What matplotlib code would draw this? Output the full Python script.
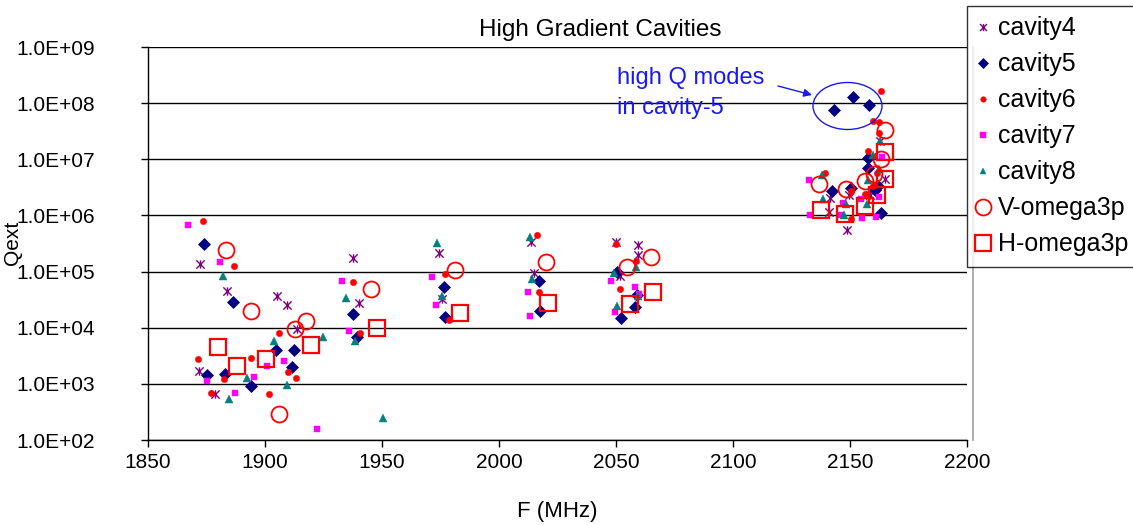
import numpy as np
import matplotlib
matplotlib.use("Agg")
import matplotlib.pyplot as plt
from matplotlib.path import Path
from matplotlib.patches import Ellipse
from matplotlib.lines import Line2D
from matplotlib.ticker import FuncFormatter, FixedLocator, NullLocator

plt.rcParams['font.family'] = ['Liberation Sans', 'DejaVu Sans']

# ---------------- data ----------------
series_names = ["cavity4", "cavity5", "cavity6", "cavity7", "cavity8", "V-omega3p", "H-omega3p"]

cav4_f = [1872.2, 1883.6, 1871.7, 1878.6, 1905.1, 1909.2, 1913.6,
          1937.7, 1940.3, 1974.3, 1975.7, 2013.6, 2014.8,
          2049.8, 2059.2, 2059.5, 2051.6,
          2141.3, 2141.0, 2148.7, 2158.6, 2164.8, 2162.7, 2149.6]
cav4_q = [1.37e5, 4.6e4, 1.7e3, 670, 3.6e4, 2.5e4, 9.3e3,
          1.76e5, 2.76e4, 2.1e5, 3.25e4, 3.3e5, 9.6e4,
          3.3e5, 3.0e5, 2.0e5, 8.5e4,
          2.07e6, 1.15e6, 5.4e5, 2.3e6, 4.4e6, 2.1e7, 2.3e6]

cav5_f = [1873.8, 1886.2, 1875.4, 1882.9, 1893.9, 1904.8, 1912.6, 1911.4,
          1937.5, 1939.3, 1976.7, 1976.9, 2016.9, 2017.4,
          2050.6, 2059.0, 2058.3, 2052.0,
          2143.1, 2151.3, 2158.2, 2142.5, 2150.6, 2157.6, 2157.7, 2160.8, 2163.1, 2162.0]
cav5_q = [3.1e5, 2.9e4, 1.43e3, 1.49e3, 920, 4.0e3, 4.0e3, 2.0e3,
          1.78e4, 6.7e3, 5.4e4, 1.57e4, 6.9e4, 2.0e4,
          9.7e4, 3.8e4, 2.37e4, 1.49e4,
          7.5e7, 1.3e8, 9.2e7, 2.7e6, 3.1e6, 7.1e6, 1.07e7, 2.8e6, 1.1e6, 3.4e6]

cav6_f = [1873.4, 1886.7, 1871.4, 1882.5, 1876.8, 1906.1, 1909.8, 1913.4, 1901.5, 1893.9,
          1937.4, 1940.6, 1976.9, 1978.6, 2016.1, 2017.1,
          2050.1, 2058.4, 2051.9,
          2139.3, 2150.6, 2150.6, 2159.8, 2163.1, 2162.2, 2162.2, 2157.6, 2161.5, 2159.8, 2156.3]
cav6_q = [7.9e5, 1.28e5, 2.8e3, 1.2e3, 680, 8.2e3, 1.6e3, 1.26e3, 670, 2.9e3,
          6.5e4, 8.1e3, 9.1e4, 1.39e4, 4.4e5, 4.4e4,
          3.1e5, 1.57e5, 4.9e4,
          5.6e6, 2.7e6, 8.7e5, 4.8e7, 1.66e8, 4.6e7, 2.9e7, 1.4e7, 5.6e6, 3.4e6, 2.4e6]

cav7_f = [1867.2, 1880.8, 1875.4, 1895.4, 1887.2, 1908.0, 1901.0, 1922.2,
          1932.7, 1935.8, 1971.5, 1973.0, 2012.3, 2013.2,
          2047.8, 2058.3, 2059.9, 2049.7,
          2132.5, 2132.8, 2147.0, 2154.8, 2155.2, 2160.9, 2162.2, 2163.7, 2146.0]
cav7_q = [6.8e5, 1.5e5, 1.13e3, 1.3e3, 680, 2.6e3, 2.1e3, 155,
          6.9e4, 8.8e3, 7.9e4, 2.54e4, 4.4e4, 1.64e4,
          6.7e4, 5.4e4, 4.0e4, 1.93e4,
          4.3e6, 1.0e6, 1.65e6, 1.95e6, 9.1e5, 9.5e5, 2.1e6, 1.1e7, 1.0e6]

cav8_f = [1881.9, 1892.2, 1884.5, 1903.7, 1924.9, 1909.2,
          1934.7, 1938.3, 1950.5, 1973.7, 1975.7, 2013.4, 2014.2,
          2058.4, 2049.2, 2059.2, 2050.4,
          2138.2, 2138.5, 2148.4, 2147.3, 2157.6, 2157.2, 2159.8, 2162.3, 2162.9]
cav8_q = [8.5e4, 1.25e3, 530, 5.7e3, 6.7e3, 950,
          3.4e4, 5.9e3, 250, 3.2e5, 3.6e4, 4.2e5, 7.4e4,
          1.19e5, 9.3e4, 3.7e4, 2.4e4,
          5.2e6, 2.0e6, 1.57e6, 1.0e6, 4.2e6, 1.57e6, 1.2e7, 6.7e6, 2.1e7]

v_f = [1883.2, 1894.0, 1917.4, 1912.8, 1906.1, 1945.4, 1981.4, 2019.9, 2064.9, 2054.9,
       2136.8, 2148.2, 2156.3, 2160.1, 2163.4, 2165.1]
v_q = [2.4e5, 2.0e4, 1.3e4, 9.5e3, 290, 4.9e4, 1.07e5, 1.47e5, 1.85e5, 1.23e5,
       3.7e6, 3.0e6, 4.1e6, 5.4e6, 1.0e7, 3.3e7]

h_f = [1879.8, 1888.1, 1900.5, 1919.8, 1947.8, 1983.4, 2021.1, 2065.9, 2056.1,
       2137.4, 2148.0, 2156.3, 2161.5, 2164.8, 2165.1]
h_q = [4.6e3, 2.07e3, 2.76e3, 5.0e3, 9.9e3, 1.83e4, 2.76e4, 4.4e4, 2.65e4,
       1.26e6, 1.04e6, 1.45e6, 2.3e6, 4.4e6, 1.35e7]

x_ticks = [1850, 1900, 1950, 2000, 2050, 2100, 2150, 2200]
y_ticks = [1e2, 1e3, 1e4, 1e5, 1e6, 1e7, 1e8, 1e9]

# ---------------- figure ----------------
W, H = 1133, 525
fig = plt.figure(figsize=(W / 100, H / 100), dpi=100)
ax = fig.add_axes([148 / W, 1 - 440 / H, (967 - 148) / W, (440 - 47) / H])

star = Path([(-1, -1), (1, 1), (-1, 1), (1, -1), (0, -1), (0, 1)],
            [Path.MOVETO, Path.LINETO, Path.MOVETO, Path.LINETO, Path.MOVETO, Path.LINETO])

colors = ['#800080', '#000080', '#ff0000', '#ff00ff', '#008080', '#ff0000', '#ff0000']
markers = [star, 'D', 'o', 's', '^', 'o', 's']
sizes = [6.0, 6.2, 4.6, 4.6, 5.6, 11.5, 11.0]
leg_sizes = [5.0, 5.4, 4.0, 4.2, 4.8, 11.5, 11.0]
filled = [True, True, True, True, True, False, False]
edgew = [1.0, 0.5, 0.3, 0.3, 0.3, 1.3, 1.6]

data = [(cav4_f, cav4_q), (cav5_f, cav5_q), (cav6_f, cav6_q), (cav7_f, cav7_q),
        (cav8_f, cav8_q), (v_f, v_q), (h_f, h_q)]

handles = []
for i, ((fx, qy), name) in enumerate(zip(data, series_names)):
    fc = colors[i] if filled[i] else 'none'
    ax.plot(fx, qy, linestyle='none', marker=markers[i], ms=sizes[i], mec=colors[i],
            mfc=fc, mew=edgew[i], label=name)
    handles.append(Line2D([], [], linestyle='none', marker=markers[i], ms=leg_sizes[i],
                          mec=colors[i], mfc=fc, mew=edgew[i], label=name))

ax.set_yscale('log')
ax.set_xlim(1850, 2200)
ax.set_ylim(1e2, 1e9)
ax.xaxis.set_major_locator(FixedLocator(x_ticks))
ax.yaxis.set_major_locator(FixedLocator(y_ticks))
ax.yaxis.set_minor_locator(NullLocator())
ax.yaxis.set_major_formatter(FuncFormatter(lambda v, p: f"{v:.1E}"))
ax.grid(axis='y', color='black', linewidth=1.0)
ax.set_axisbelow(True)
for s in ['top', 'right']:
    ax.spines[s].set_visible(False)
for s in ['left', 'bottom']:
    ax.spines[s].set_color('black')
    ax.spines[s].set_linewidth(1.0)
ax.tick_params(axis='both', labelsize=15, length=5, width=1, direction='out', colors='black')
ax.tick_params(axis='x', pad=4)
ax.tick_params(axis='y', pad=33)
ax.set_xlabel('F (MHz)', fontsize=16, labelpad=21)
ax.set_ylabel('Qext', fontsize=15)
ax.yaxis.set_label_coords((22 - 148) / 819, (440 - 243) / 393)

fig.text(600 / W, 1 - 30 / H, 'High Gradient Cavities', ha='center', va='center', fontsize=17.5)

# plot-area right border
fig.add_artist(Line2D([973 / W, 973 / W], [1 - 440 / H, 1 - 47 / H], color='#a0a0a0', lw=1.2,
                      transform=fig.transFigure, zorder=0))

# annotation
blue = '#1a1af0'
ell = Ellipse(((847.5 - 148) / 819, (440 - 106) / 393), 69 / 819, 47 / 393,
              transform=ax.transAxes, fill=False, edgecolor=blue, lw=1.0, zorder=5)
ax.add_patch(ell)
ax.text((617 - 148) / 819, (440 - 93) / 393, 'high Q modes\nin cavity-5', transform=ax.transAxes,
        ha='left', va='center', color=blue, fontsize=17, linespacing=1.5)
ax.annotate('', xy=((812 - 148) / 819, (440 - 95) / 393), xycoords='axes fraction',
            xytext=((778 - 148) / 819, (440 - 86) / 393), textcoords='axes fraction',
            arrowprops=dict(arrowstyle='-|>', color=blue, lw=1.0, mutation_scale=12,
                            shrinkA=0, shrinkB=0))

leg = fig.legend(handles=handles, loc='upper left', bbox_to_anchor=(967 / W, 1 - 6 / H),
                 bbox_transform=fig.transFigure, fontsize=18, frameon=True, fancybox=False,
                 edgecolor='black', borderaxespad=0, borderpad=0.42, handlelength=0.44,
                 handletextpad=0.38, labelspacing=0.48, numpoints=1)
leg.get_frame().set_linewidth(1.0)

fig.savefig('out.png', dpi=100)
